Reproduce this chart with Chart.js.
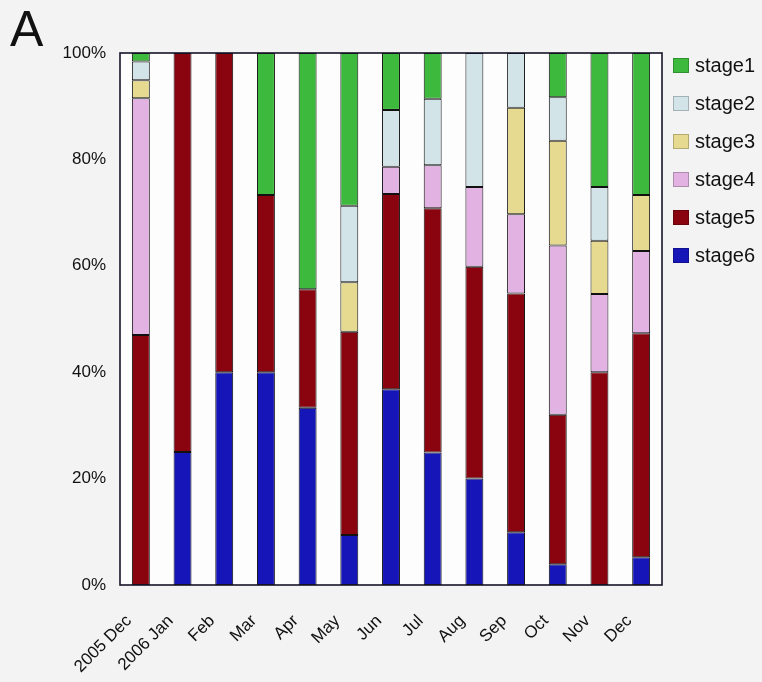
<!DOCTYPE html>
<html>
<head>
<meta charset="utf-8">
<script src="https://cdn.jsdelivr.net/npm/chart.js@4"></script>
<style>
  html, body { margin: 0; padding: 0; background: #f3f3f3; }
  #wrap { position: relative; width: 762px; height: 682px; }
</style>
</head>
<body>
<div id="wrap"><canvas id="chart" width="762" height="682"></canvas></div>
<script>
// Monthly share of each stage (%), stage6 at the bottom of each column
const categories = ['2005 Dec', '2006 Jan', 'Feb', 'Mar', 'Apr', 'May', 'Jun', 'Jul', 'Aug', 'Sep', 'Oct', 'Nov', 'Dec'];
const stage1 = [1.6, 0, 0, 26.7, 44.4, 28.7, 10.7, 8.6, 0, 0, 8.3, 25.2, 26.7];
const stage2 = [3.5, 0, 0, 0, 0, 14.4, 10.7, 12.5, 25.2, 10.3, 8.2, 10.1, 0];
const stage3 = [3.4, 0, 0, 0, 0, 9.3, 0, 0, 0, 20.0, 19.7, 10.0, 10.5];
const stage4 = [44.5, 0, 0, 0, 0, 0, 5.1, 8.1, 15.0, 14.9, 31.8, 14.7, 15.5];
const stage5 = [47.0, 75, 60, 33.3, 22.3, 38.2, 36.7, 45.9, 39.8, 44.9, 28.1, 40.0, 42.1];
const stage6 = [0, 25, 40, 40, 33.3, 9.4, 36.8, 24.9, 20.0, 9.9, 3.9, 0, 5.2];
const yTicks = [0, 20, 40, 60, 80, 100];

const series = [
  { label: 'stage6', data: stage6, color: '#1616b8' },
  { label: 'stage5', data: stage5, color: '#8a0410' },
  { label: 'stage4', data: stage4, color: '#e2b2e2' },
  { label: 'stage3', data: stage3, color: '#e6da90' },
  { label: 'stage2', data: stage2, color: '#d2e4e8' },
  { label: 'stage1', data: stage1, color: '#3dba3d' }
];

const FONT = "'Liberation Sans', Arial, Helvetica, sans-serif";

// White plot panel, black frame, panel letter and the stage key
const framePlugin = {
  id: 'frame',
  beforeDraw(chart) {
    const { ctx, chartArea: a } = chart;
    ctx.save();
    ctx.fillStyle = '#fdfdfd';
    ctx.fillRect(a.left, a.top, a.right - a.left, a.bottom - a.top);
    ctx.restore();
  },
  afterDraw(chart) {
    const { ctx, chartArea: a } = chart;
    ctx.save();
    ctx.strokeStyle = '#14142a';
    ctx.lineWidth = 1.6;
    ctx.strokeRect(a.left, a.top, a.right - a.left, a.bottom - a.top);

    ctx.fillStyle = '#111';
    ctx.font = '50px ' + FONT;
    ctx.textAlign = 'left';
    ctx.textBaseline = 'alphabetic';
    ctx.fillText('A', 10, 46);

    // key, stage1 first
    const items = chart.data.datasets.slice().reverse();
    ctx.font = '20px ' + FONT;
    ctx.textBaseline = 'middle';
    items.forEach((ds, i) => {
      const y = 58 + i * 38;
      ctx.fillStyle = ds.backgroundColor;
      ctx.fillRect(673, y, 16, 15);
      ctx.strokeStyle = 'rgba(0,0,0,0.22)';
      ctx.lineWidth = 1;
      ctx.strokeRect(673.5, y + 0.5, 15, 14);
      ctx.fillStyle = '#111';
      ctx.fillText(ds.label, 695, y + 8);
    });
    ctx.restore();
  }
};

new Chart(document.getElementById('chart'), {
  type: 'bar',
  data: {
    labels: categories,
    datasets: series.map(s => ({
      label: s.label,
      data: s.data,
      backgroundColor: s.color,
      borderColor: '#111',
      borderWidth: c => (c.raw ? 1 : 0),
      borderSkipped: false,
      barPercentage: 0.43,
      categoryPercentage: 1.0
    }))
  },
  options: {
    responsive: false,
    animation: false,
    devicePixelRatio: 1,
    layout: { padding: { left: 0, right: 100, top: 53, bottom: 0 } },
    plugins: {
      legend: { display: false },
      tooltip: { enabled: false }
    },
    scales: {
      x: {
        stacked: true,
        afterFit: axis => { axis.height = 97; },
        grid: { display: false, drawTicks: false },
        border: { display: false },
        ticks: {
          color: '#111',
          font: { family: FONT, size: 17 },
          minRotation: 45,
          maxRotation: 45,
          padding: 26,
          labelOffset: -12,
          autoSkip: false
        }
      },
      y: {
        stacked: true,
        min: 0,
        max: 100,
        afterFit: axis => { axis.width = 120; },
        afterBuildTicks: axis => { axis.ticks = yTicks.map(v => ({ value: v })); },
        grid: { display: false, drawTicks: false },
        border: { display: false },
        ticks: {
          color: '#111',
          font: { family: FONT, size: 17 },
          padding: 14,
          callback: v => v + '%'
        }
      }
    }
  },
  plugins: [framePlugin]
});
</script>
</body>
</html>
